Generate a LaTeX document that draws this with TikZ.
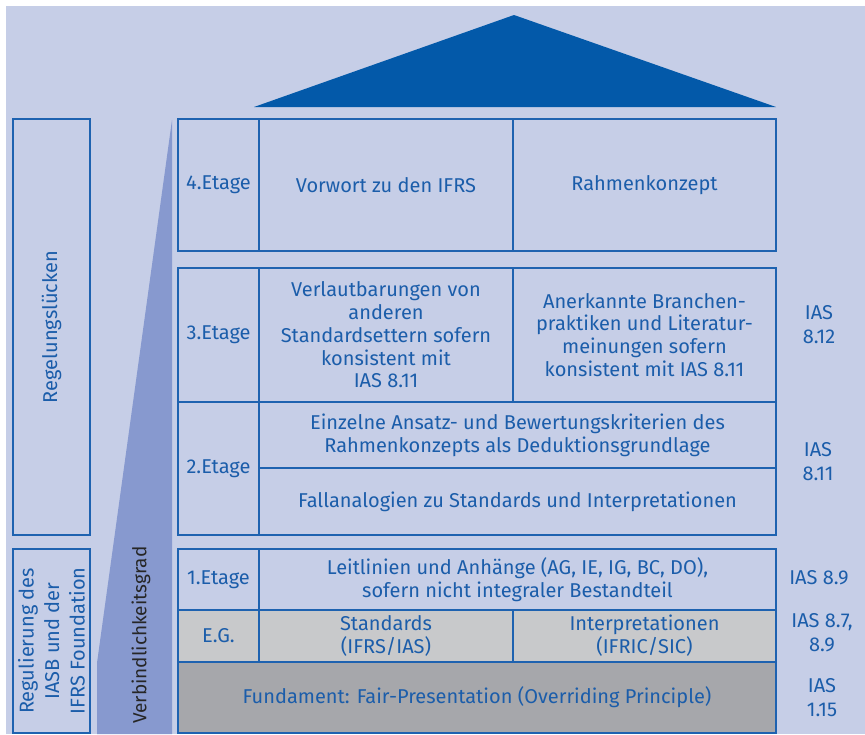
\documentclass[tikz,border=0pt]{standalone}
\usepackage{fontspec}
\setmainfont{Fira Sans}
\definecolor{bgc}{HTML}{C6CEE7}
\definecolor{linec}{HTML}{1E62B0}
\definecolor{textc}{HTML}{1B5DAA}
\definecolor{roofc}{HTML}{0359A9}
\definecolor{wedgec}{HTML}{8799CF}
\definecolor{egc}{HTML}{C8C9CB}
\definecolor{fundc}{HTML}{A6A7AB}
\tikzset{
  cell/.style={draw=linec, line width=1.4pt, inner sep=0pt, align=center,
    text=textc, font=\fontsize{20}{22.8}\selectfont},
  side/.style={inner sep=0pt, align=center, text=textc,
    font=\fontsize{20}{24}\selectfont},
  vlabel/.style={rotate=90, inner sep=0pt, align=center, text=textc,
    font=\fontsize{20}{25.5}\selectfont},
}
\begin{document}
\begin{tikzpicture}[x=1pt,y=-1pt]
\useasboundingbox (0,0) rectangle (865,734);
% backdrop
\fill[white] (0,0) rectangle (865,734);
\fill[bgc] (6,6) rectangle (865,734);
% roof
\fill[roofc] (254,107) -- (514,15) -- (776,107) -- cycle;
% wedge showing the degree of bindingness
\fill[wedgec] (172,120) -- (172,734) -- (97,734) -- (97,663) -- cycle;
\node[vlabel, text=black!85, font=\fontsize{19}{22}\selectfont]
  (grad) at (141,635) {Verbindlichkeitsgrad};

% left brackets
\node[cell, minimum width=77pt, minimum height=416pt] (gap) at (51.5,327) {};
\node[vlabel] at (gap.center) {Regelungslücken};
\node[cell, minimum width=77pt, minimum height=184pt] (reg) at (51.5,641) {};
\node[vlabel] at (reg.center) {Regulierung des\\IASB und der\\IFRS Foundation};

% 4th floor
\node[cell, minimum width=81pt, minimum height=132pt] (e4lab) at (218.5,185) {4.Etage};
\node[cell, minimum width=254pt, minimum height=132pt] (e4a) at (386,185) {Vorwort zu den IFRS};
\node[cell, minimum width=263pt, minimum height=132pt] (e4b) at (644.5,185) {Rahmenkonzept};

% 3rd floor
\node[cell, minimum width=81pt, minimum height=134pt] (e3lab) at (218.5,335) {3.Etage};
\node[cell, minimum width=254pt, minimum height=134pt] (e3a) at (386,335)
  {Verlautbarungen von\\anderen\\Standardsettern sofern\\konsistent mit\\IAS 8.11};
\node[cell, minimum width=263pt, minimum height=134pt] (e3b) at (644.5,335)
  {Anerkannte Branchen-\\praktiken und Literatur-\\meinungen sofern\\konsistent mit IAS 8.11};

% 2nd floor
\node[cell, minimum width=81pt, minimum height=133pt] (e2lab) at (218.5,468.5) {2.Etage};
\node[cell, minimum width=517pt, minimum height=66pt] (e2a) at (517.5,435)
  {Einzelne Ansatz- und Bewertungskriterien des\\Rahmenkonzepts als Deduktionsgrundlage};
\node[cell, minimum width=517pt, minimum height=67pt] (e2b) at (517.5,501.5)
  {Fallanalogien zu Standards und Interpretationen};

% 1st floor
\node[cell, minimum width=81pt, minimum height=61pt] (e1lab) at (218.5,579.5) {1.Etage};
\node[cell, minimum width=517pt, minimum height=61pt] (e1a) at (517.5,579.5)
  {Leitlinien und Anhänge (AG, IE, IG, BC, DO),\\sofern nicht integraler Bestandteil};

% ground floor
\node[cell, fill=egc, minimum width=81pt, minimum height=52pt] (eglab) at (218.5,636) {E.G.};
\node[cell, fill=egc, minimum width=254pt, minimum height=52pt] (ega) at (386,636) {Standards\\(IFRS/IAS)};
\node[cell, fill=egc, minimum width=263pt, minimum height=52pt] (egb) at (644.5,636) {Interpretationen\\(IFRIC/SIC)};

% foundation
\node[cell, fill=fundc, minimum width=598pt, minimum height=71pt] (fund) at (477,697.5)
  {Fundament: Fair-Presentation (Overriding Principle)};

% references
\node[side] (r3) at (819,325) {IAS\\8.12};
\node[side] (r2) at (818,462) {IAS\\8.11};
\node[side] (r1) at (819,578) {IAS 8.9};
\node[side] (rg) at (822,633) {IAS 8.7,\\8.9};
\node[side] (rf) at (822,698) {IAS\\1.15};
\end{tikzpicture}
\end{document}
